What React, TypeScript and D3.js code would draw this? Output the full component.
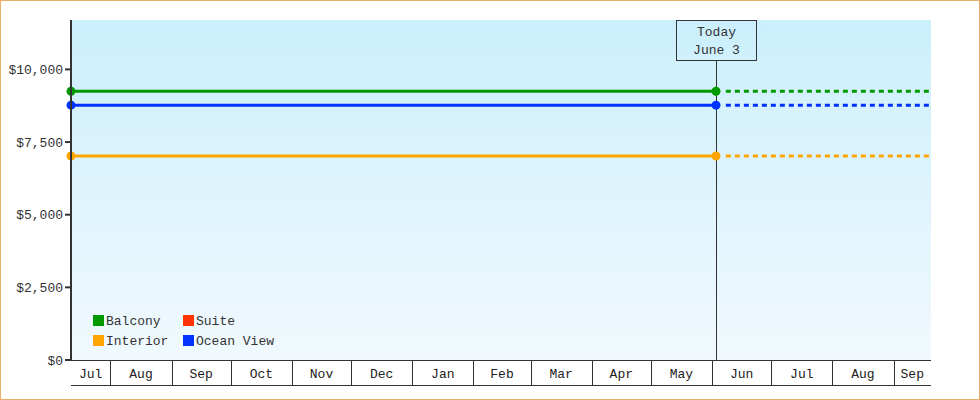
import React from 'react';
import * as d3 from 'd3';

// cabin price history (flat since launch) and forecast
const seriesNames = ['Balcony', 'Suite', 'Interior', 'Ocean View'];
const seriesColors = ['#009900', '#ff3300', '#ffa500', '#0033ff'];
const firstPrices: (number | null)[] = [9250, null, 7020, 8770];
const todayPrices: (number | null)[] = [9250, null, 7020, 8770];

const startDate = '2023-07-12';
const todayDate = '2024-06-03';
const forecastStart = '2024-06-08';
const endDate = '2024-09-20';

const yTicks = [0, 2500, 5000, 7500, 10000];
const yMax = 11700;

const todayLabel = ['Today', 'June 3'];

const W = 980;
const H = 400;
const margin = { top: 20, right: 49, bottom: 40, left: 71 };
const FONT = '"Liberation Mono", monospace';

const App: React.FC = () => {
  const parse = d3.timeParse('%Y-%m-%d');
  const x = d3.scaleTime()
    .domain([parse(startDate)!, parse(endDate)!])
    .range([margin.left, W - margin.right]);
  const y = d3.scaleLinear().domain([0, yMax]).range([H - margin.bottom, margin.top]);

  const x0 = margin.left;
  const x1 = W - margin.right;
  const y0 = H - margin.bottom;
  const y1 = margin.top;
  const axisColor = '#333';

  // month bands on the x axis
  const months = d3.timeMonth.range(d3.timeMonth.floor(x.domain()[0]), x.domain()[1]);
  const bands = months.map((m) => {
    const a = Math.max(x(m), x0);
    const b = Math.min(x(d3.timeMonth.offset(m, 1)), x1);
    return { a, b, label: d3.timeFormat('%b')(m) };
  });

  const fmt = (v: number) => '$' + d3.format(',')(v);
  const tx = Math.round(x(parse(todayDate)!)) + 0.5;
  const line = d3.line<[Date, number]>().x((d) => x(d[0])).y((d) => y(d[1]));

  return (
    <svg width={W} height={H} style={{ position: 'absolute', left: 0, top: 0 }} fontFamily={FONT}>
      <defs>
        <linearGradient id="bg" x1="0" y1="0" x2="0" y2="1">
          <stop offset="0%" stopColor="#cbeffc" />
          <stop offset="100%" stopColor="#f1f9fe" />
        </linearGradient>
      </defs>
      <rect x={0.5} y={0.5} width={W - 1} height={H - 1} fill="#fff" stroke="#ebae6b" />
      <rect x={x0} y={y1} width={x1 - x0} height={y0 - y1} fill="url(#bg)" />

      {/* y axis */}
      {yTicks.map((t) => (
        <g key={t}>
          <line x1={x0 - 6} x2={x0} y1={y(t)} y2={y(t)} stroke={axisColor} strokeWidth={2} />
          <text x={x0 - 8} y={y(t)} dy="0.35em" textAnchor="end" fontSize={13} fill="#333">
            {fmt(t)}
          </text>
        </g>
      ))}

      {/* today marker */}
      <line x1={tx} x2={tx} y1={y1 + 40} y2={y0} stroke={axisColor} strokeWidth={1} />
      <rect x={tx - 40} y={y1 + 0.5} width={80} height={40} fill="none" stroke={axisColor} strokeWidth={1} />
      {todayLabel.map((s, i) => (
        <text key={s} x={tx} y={y1 + 16 + i * 18} textAnchor="middle" fontSize={13} fill="#333">
          {s}
        </text>
      ))}

      {/* series */}
      {seriesNames.map((n, i) => {
        const p0 = firstPrices[i];
        const p1 = todayPrices[i];
        if (p0 == null || p1 == null) return null;
        const pts: [Date, number][] = [[parse(startDate)!, p0], [parse(todayDate)!, p1]];
        const fc: [Date, number][] = [[parse(forecastStart)!, p1], [parse(endDate)!, p1]];
        return (
          <g key={n}>
            <path d={line(pts)!} fill="none" stroke={seriesColors[i]} strokeWidth={3} />
            <path d={line(fc)!} fill="none" stroke={seriesColors[i]} strokeWidth={3} strokeDasharray="5,4" />
            {pts.map((d, j) => (
              <circle key={j} cx={x(d[0])} cy={y(d[1])} r={4.5} fill={seriesColors[i]} />
            ))}
          </g>
        );
      })}

      {/* y axis line */}
      <line x1={x0} x2={x0} y1={y1} y2={y0 + 1} stroke={axisColor} strokeWidth={2} />

      {/* x axis month bands */}
      <line x1={x0} x2={x1} y1={y0 + 0.5} y2={y0 + 0.5} stroke={axisColor} strokeWidth={1} />
      <line x1={x0} x2={x1} y1={y0 + 25.5} y2={y0 + 25.5} stroke={axisColor} strokeWidth={1} />
      {bands.map((b, i) => (
        <g key={i}>
          {i > 0 && (
            <line x1={Math.round(b.a) + 0.5} x2={Math.round(b.a) + 0.5} y1={y0} y2={y0 + 25} stroke={axisColor} />
          )}
          <text x={(b.a + b.b) / 2} y={y0 + 13} dy="0.35em" textAnchor="middle" fontSize={13} fill="#222">
            {b.label}
          </text>
        </g>
      ))}

      {/* legend */}
      {seriesNames.map((n, i) => {
        const col = i % 2;
        const row = Math.floor(i / 2);
        const lx = 93 + col * 90;
        const ly = 315 + row * 20;
        return (
          <g key={n}>
            <rect x={lx} y={ly} width={11} height={11} fill={seriesColors[i]} />
            <text x={lx + 13} y={ly + 5.5} dy="0.35em" fontSize={13} fill="#333">
              {n}
            </text>
          </g>
        );
      })}
    </svg>
  );
};

export default App;
